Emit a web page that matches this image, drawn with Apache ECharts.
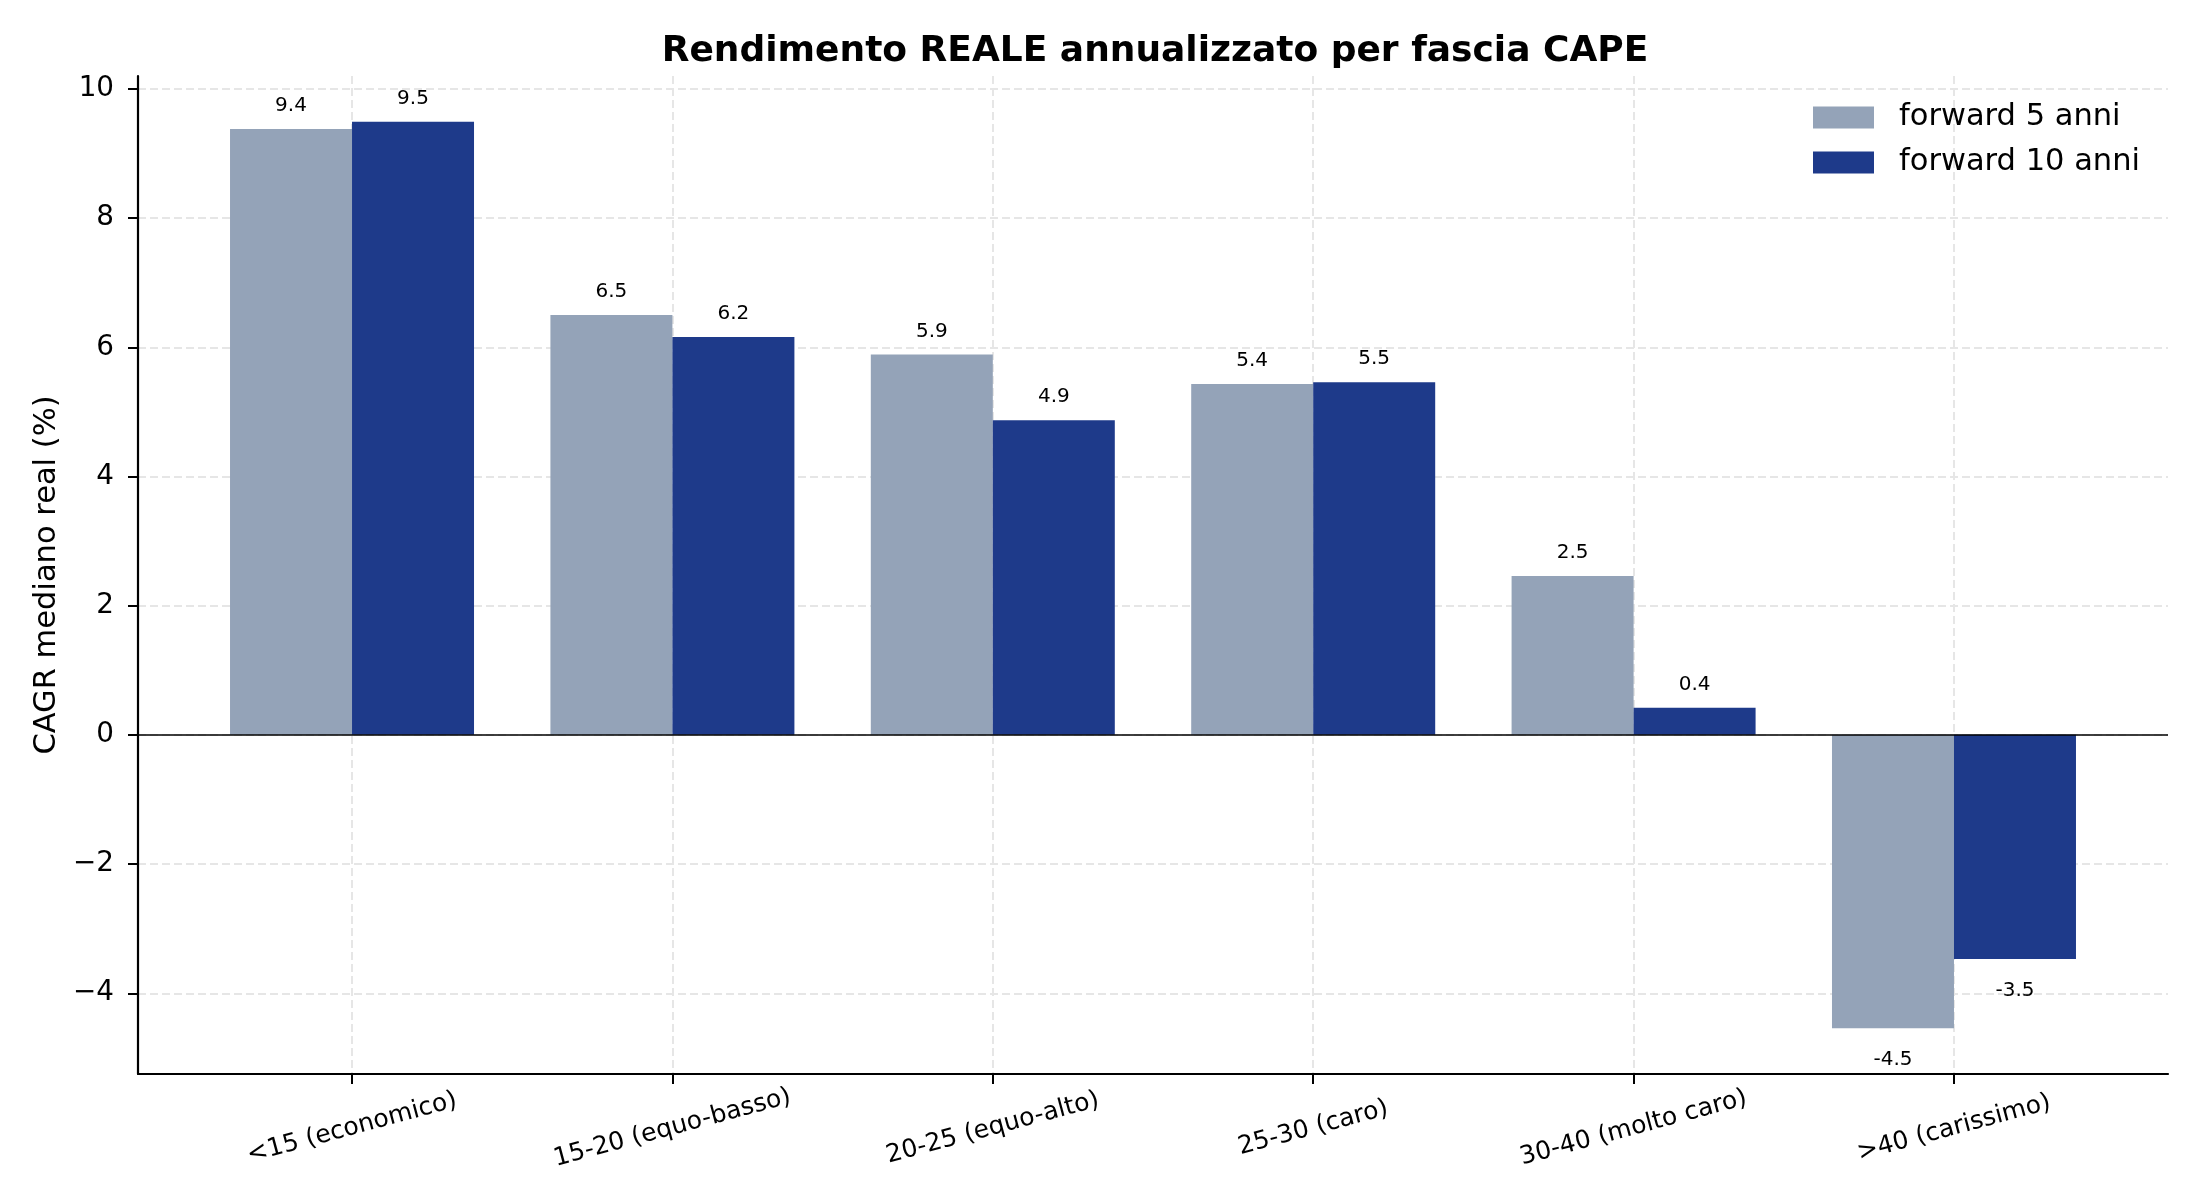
<!DOCTYPE html>
<html>
<head>
    <meta charset="utf-8">
    <title>Rendimento REALE per fascia CAPE</title>
    <script src="https://cdn.jsdelivr.net/npm/echarts@6/dist/echarts.min.js"></script>
    <style>
        html, body { margin: 0; padding: 0; background: #fff; }
    </style>
</head>
<body>
    <div id="main" style="width:2200px;height:1200px;"></div>
    <script type="text/javascript">
    // fasce CAPE e rendimenti reali mediani (%)
    var fasce = ['<15 (economico)', '15-20 (equo-basso)', '20-25 (equo-alto)', '25-30 (caro)', '30-40 (molto caro)', '>40 (carissimo)'];
    var fwd5 = [9.38, 6.50, 5.89, 5.43, 2.46, -4.54];
    var fwd10 = [9.49, 6.16, 4.87, 5.46, 0.42, -3.47];
    var yTicks = [-4, -2, 0, 2, 4, 6, 8, 10];
    var xTicks = [0, 1, 2, 3, 4, 5];

    var font = 'DejaVu Sans';

    // ogni barra con l'etichetta sopra (o sotto se negativa)
    function toItems(arr) {
        var out = [];
        for (var i = 0; i < arr.length; i++) {
            var v = arr[i];
            out.push({
                value: [i, v],
                label: {
                    position: v < 0 ? 'bottom' : 'top',
                    distance: v < 0 ? 22 : 13
                }
            });
        }
        return out;
    }

    var barLabel = {
        show: true,
        color: '#000',
        fontFamily: font,
        fontSize: 20,
        lineHeight: 20,
        formatter: function (p) { return p.value[1].toFixed(1); }
    };

    var myChart = echarts.init(document.getElementById('main'), null, { renderer: 'canvas' });

    var option = {
        animation: false,
        backgroundColor: '#fff',
        title: {
            text: 'Rendimento REALE annualizzato per fascia CAPE',
            left: 1150,
            textAlign: 'center',
            top: 27,
            textStyle: {
                fontFamily: font,
                fontWeight: 'bold',
                fontSize: 36,
                lineHeight: 40,
                color: '#000'
            }
        },
        legend: {
            orient: 'vertical',
            left: 1813,
            top: 102,
            padding: 0,
            itemWidth: 61,
            itemHeight: 22,
            itemGap: 14,
            icon: 'rect',
            textStyle: {
                fontFamily: font,
                fontSize: 30.5,
                lineHeight: 22,
                color: '#000',
                padding: [0, 0, 0, 20]
            },
            data: ['forward 5 anni', 'forward 10 anni']
        },
        grid: {
            left: 138,
            right: 32,
            top: 76,
            bottom: 126,
            containLabel: false
        },
        xAxis: {
            type: 'value',
            min: -0.668,
            max: 5.668,
            axisLine: { show: true, onZero: false, lineStyle: { color: '#000', width: 2.2 } },
            axisTick: {
                show: true,
                customValues: xTicks,
                length: 10,
                lineStyle: { color: '#000', width: 2 }
            },
            axisLabel: {
                customValues: xTicks,
                rotate: 15,
                align: 'center',
                verticalAlign: 'middle',
                margin: 54,
                fontFamily: font,
                fontSize: 25,
                color: '#000',
                formatter: function (v) { return fasce[Math.round(v)]; }
            },
            splitLine: {
                show: true,
                lineStyle: { color: '#e6e6e6', width: 2, type: [8, 4] }
            }
        },
        yAxis: {
            type: 'value',
            min: -5.25,
            max: 10.2,
            name: 'CAGR mediano real (%)',
            nameLocation: 'middle',
            nameGap: 75,
            nameTextStyle: {
                fontFamily: font,
                fontSize: 30.5,
                color: '#000'
            },
            axisLine: { show: true, onZero: false, lineStyle: { color: '#000', width: 2.2 } },
            axisTick: {
                show: true,
                customValues: yTicks,
                length: 10,
                lineStyle: { color: '#000', width: 2 }
            },
            axisLabel: {
                customValues: yTicks,
                margin: 24,
                fontFamily: font,
                fontSize: 27.8,
                color: '#000',
                formatter: function (v) { return v < 0 ? '\u2212' + (-v) : String(v); }
            },
            splitLine: {
                show: true,
                lineStyle: { color: '#e6e6e6', width: 2, type: [8, 4] }
            }
        },
        series: [
            {
                name: 'forward 5 anni',
                type: 'bar',
                barWidth: 122,
                barGap: '0%',
                itemStyle: { color: '#94a3b8' },
                label: barLabel,
                data: toItems(fwd5),
                markLine: {
                    silent: true,
                    symbol: 'none',
                    label: { show: false },
                    lineStyle: { color: '#000', width: 1.6, type: 'solid' },
                    data: [{ yAxis: 0 }]
                }
            },
            {
                name: 'forward 10 anni',
                type: 'bar',
                barWidth: 122,
                barGap: '0%',
                itemStyle: { color: '#1e3a8a' },
                label: barLabel,
                data: toItems(fwd10)
            }
        ]
    };

    myChart.setOption(option);
    </script>
</body>
</html>
